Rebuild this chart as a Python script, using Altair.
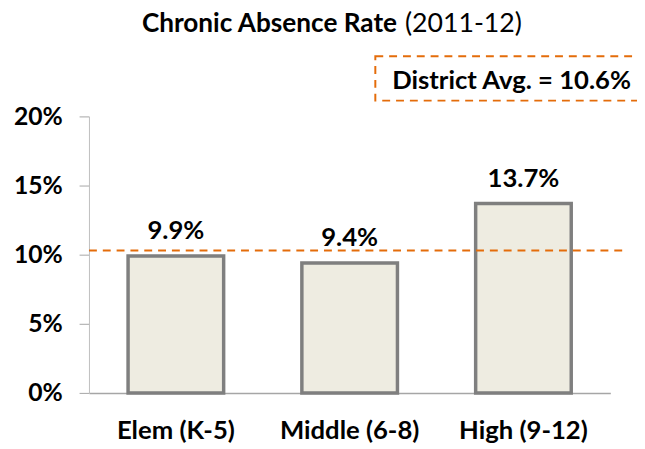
import altair as alt
import pandas as pd

categories = ["Elem (K-5)", "Middle (6-8)", "High (9-12)"]
rates = [9.9, 9.4, 13.7]
labels = ["9.9%", "9.4%", "13.7%"]
district_avg_line = 10.3
district_label = "District Avg. = 10.6%"
y_ticks = [0, 5, 10, 15, 20]

FONT = "Lato"
df = pd.DataFrame({"cat": categories, "rate": rates, "label": labels})

xenc = alt.X("cat:N", sort=categories, title=None,
             scale=alt.Scale(paddingInner=0.45, paddingOuter=0.225),
             axis=alt.Axis(labelAngle=0, labelFont=FONT, labelFontSize=26,
                           labelFontWeight="bold", labelColor="black",
                           labelBaseline="alphabetic",
                           labelPadding=46, ticks=False, domainColor="#A6A6A6",
                           domainWidth=1.5))
yenc = alt.Y("rate:Q", title=None,
             scale=alt.Scale(domain=[0, 20], nice=False),
             axis=alt.Axis(values=y_ticks, labelExpr="datum.value + '%'",
                           labelFont=FONT, labelFontSize=25, labelFontWeight="bold",
                           labelColor="black", labelPadding=17, tickSize=10,
                           tickColor="#A6A6A6", domainColor="#BFBFBF", grid=False))

base = alt.Chart(df)
bars = base.mark_bar(fill="#EEECE1", stroke="#7F7F7F", strokeWidth=3.5).encode(x=xenc, y=yenc)
text = base.mark_text(font=FONT, fontSize=26, fontWeight="bold", dy=-17,
                      baseline="alphabetic", color="black").encode(
    x=alt.X("cat:N", sort=categories), y="rate:Q", text="label:N")

avg_df = pd.DataFrame({"v": [district_avg_line]})
rule = alt.Chart(avg_df).mark_rule(color="#E46C0A", strokeWidth=2, strokeDash=[8, 6]).encode(
    y="v:Q", x=alt.value(0), x2=alt.value(545))

box = alt.Chart(avg_df).mark_rect(fill=None, fillOpacity=0, stroke="#E46C0A", strokeWidth=2,
                                  strokeDash=[8, 6]).encode(
    x=alt.value(290), x2=alt.value(562), y=alt.value(-61), y2=alt.value(-16))
box_text = alt.Chart(avg_df).mark_text(font=FONT, fontSize=26, fontWeight="bold",
                                       color="black", align="center",
                                       baseline="alphabetic").encode(
    x=alt.value(428), y=alt.value(-28), text=alt.value(district_label))

title_bold = alt.Chart(avg_df).mark_text(font=FONT, fontSize=26.5, fontWeight="bold",
                                         color="black", align="right",
                                         baseline="alphabetic").encode(
    x=alt.value(312), y=alt.value(-85), text=alt.value("Chronic Absence Rate"))
title_norm = alt.Chart(avg_df).mark_text(font=FONT, fontSize=27, fontWeight="normal",
                                         color="black", align="left",
                                         baseline="alphabetic").encode(
    x=alt.value(320), y=alt.value(-85), text=alt.value("(2011-12)"))

chart = alt.layer(bars, text, rule, box, box_text, title_bold, title_norm).properties(
    width=528, height=280,
    autosize=alt.AutoSizeParams(type="none"),
    padding={"left": 82, "top": 107, "right": 27, "bottom": 54},
).configure_view(stroke=None)

chart.save("out.html", embed_options={"renderer": "svg", "actions": False})
